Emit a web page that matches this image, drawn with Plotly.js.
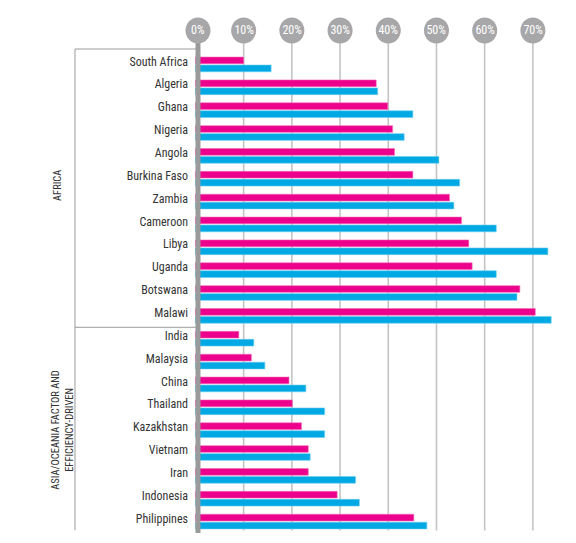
<!DOCTYPE html>
<html>
<head>
<meta charset="utf-8">
<script src="https://cdn.plot.ly/plotly-3.0.1.min.js"></script>
<style>
html,body{margin:0;padding:0;background:#fff;}
#chart{width:576px;height:543px;}
#chart svg text{font-stretch:condensed;}
</style>
</head>
<body>
<div id="chart"></div>
<script>
const countries = ["South Africa","Algeria","Ghana","Nigeria","Angola","Burkina Faso","Zambia","Cameroon","Libya","Uganda","Botswana","Malawi",
  "India","Malaysia","China","Thailand","Kazakhstan","Vietnam","Iran","Indonesia","Philippines"];
const pinkValues = [10.0,37.5,39.9,40.9,41.3,45.1,52.7,55.2,56.7,57.4,67.3,70.5,
  9.0,11.6,19.4,20.1,22.0,23.4,23.4,29.4,45.3];
const blueValues = [15.7,37.8,45.1,43.3,50.5,54.8,53.6,62.4,73.1,62.4,66.7,73.8,
  12.1,14.4,22.9,26.8,26.8,23.8,33.2,34.0,48.0];
const tickValues = [0,10,20,30,40,50,60,70];
const tickLabels = ["0%","10%","20%","30%","40%","50%","60%","70%"];
const groupLabels = ["AFRICA","ASIA/OCEANIA FACTOR AND<br>EFFICIENCY-DRIVEN"];

const FONT = "Roboto, 'Liberation Sans', sans-serif";
const PINK = "#EC008C", BLUE = "#00A9E4";

const traces = [
  {type:"bar", orientation:"h", y:countries, x:pinkValues, marker:{color:PINK, line:{color:"#F36CB8", width:0.6}}, hoverinfo:"x+y"},
  {type:"bar", orientation:"h", y:countries, x:blueValues, marker:{color:BLUE, line:{color:"#66CCF0", width:0.6}}, hoverinfo:"x+y"}
];

const circleY = 1.0469;
const zeroPaperX = 0.0106;   // thick zero axis sits just right of the plot edge
const shapes = [];
tickValues.forEach((v,i)=>{
  if (i>0) {
    shapes.push({type:"line", xref:"x", yref:"paper", x0:v, x1:v, y0:0.005, y1:1.03, line:{color:"#C4C4C4", width:1.6}, layer:"below"});
  }
});
// thick zero axis
shapes.push({type:"line", xref:"paper", yref:"paper", x0:zeroPaperX, x1:zeroPaperX, y0:0.0, y1:1.03, line:{color:"#9A9A9B", width:5}, layer:"above"});
// circles
tickValues.forEach((v,i)=>{
  const s = {type:"circle", yref:"paper", xsizemode:"pixel", ysizemode:"pixel", yanchor:circleY,
    x0:-12.5, x1:12.5, y0:-13, y1:13, fillcolor:"#A7A7A9", line:{width:0}, layer:"above"};
  if (i===0) { s.xref = "paper"; s.xanchor = zeroPaperX; } else { s.xref = "x"; s.xanchor = v; }
  shapes.push(s);
});
// left frame
shapes.push({type:"line", xref:"paper", yref:"paper", x0:-0.3165, x1:-0.3165, y0:0.006, y1:1.0083, line:{color:"#9A9A9A", width:1}});
shapes.push({type:"line", xref:"paper", yref:"paper", x0:-0.3165, x1:0.005, y0:1.0083, y1:1.0083, line:{color:"#9A9A9A", width:1}});
shapes.push({type:"line", xref:"paper", yref:"y", x0:-0.3165, x1:0.005, y0:11.5, y1:11.5, line:{color:"#9A9A9A", width:1}});

const annotations = [];
tickValues.forEach((v,i)=>{
  const a = {yref:"paper", y:circleY, text:tickLabels[i], showarrow:false,
    font:{family:FONT, size:12, color:"#FFFFFF"}, xanchor:"center", yanchor:"middle"};
  if (i===0) { a.xref = "paper"; a.x = zeroPaperX; } else { a.xref = "x"; a.x = v; }
  annotations.push(a);
});
annotations.push({xref:"paper", yref:"paper", x:-0.364, y:0.725, text:groupLabels[0], textangle:-90, showarrow:false,
  font:{family:FONT, size:10.5, color:"#333333"}, xanchor:"center", yanchor:"middle"});
annotations.push({xref:"paper", yref:"paper", x:-0.348, y:0.215, text:groupLabels[1], textangle:-90, showarrow:false,
  font:{family:FONT, size:10.5, color:"#333333"}, xanchor:"center", yanchor:"middle", align:"center"});

const layout = {
  width:576, height:543,
  margin:{l:194, r:6, t:53, b:10},
  paper_bgcolor:"#ffffff", plot_bgcolor:"rgba(0,0,0,0)",
  showlegend:false,
  barmode:"group", bargap:0.3, bargroupgap:0.16,
  font:{family:FONT, size:12, color:"#333333"},
  xaxis:{range:[-0.3,77.7], showgrid:false, zeroline:false, showticklabels:false, ticks:"", fixedrange:true},
  yaxis:{type:"category", autorange:"reversed", showgrid:false, zeroline:false, ticks:"", ticklabelstandoff:5, ticklabelshift:3,
    tickfont:{family:FONT, size:12, color:"#333333"}, fixedrange:true},
  shapes:shapes, annotations:annotations
};

Plotly.newPlot("chart", traces, layout, {displayModeBar:false, staticPlot:true});
</script>
</body>
</html>
